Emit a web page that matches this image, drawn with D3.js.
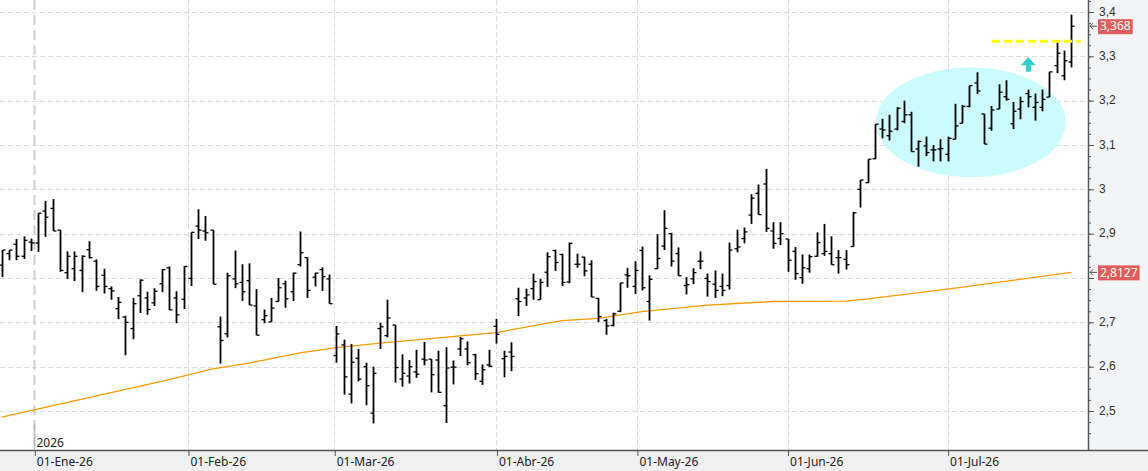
<!DOCTYPE html>
<html>
<head>
<meta charset="utf-8">
<script src="https://cdn.jsdelivr.net/npm/d3@7"></script>
<style>
  html, body { margin: 0; padding: 0; background: #fff; }
  svg { display: block; font-family: "Noto Sans", "Open Sans", sans-serif; }
</style>
</head>
<body>
<svg id="chart" width="1148" height="471"></svg>
<script>
// OHLC per session (last days of Dec-25 up to late Jul-26)
const aOpen = [
  2.829, 2.855, 2.876, 2.849, 2.881, 2.879, 2.951, 2.957, 2.908, 2.812,
  2.821, 2.817, 2.864, 2.838, 2.806, 2.776, 2.731, 2.712, 2.686, 2.760,
  2.755, 2.744, 2.787, 2.823, 2.755, 2.752, 2.799, 2.917, 2.906, 2.908,
  2.690, 2.674, 2.798, 2.790, 2.794, 2.737, 2.706, 2.701, 2.747, 2.787,
  2.769, 2.830, 2.846, 2.802, 2.819, 2.798, 2.625, 2.649, 2.538, 2.619,
  2.600, 2.495, 2.686, 2.670, 2.694, 2.572, 2.579, 2.588, 2.617, 2.617,
  2.615, 2.512, 2.599, 2.640, 2.640, 2.627, 2.567, 2.604, 2.691, 2.618,
  2.633, 2.753, 2.755, 2.776, 2.751, 2.813, 2.862, 2.853, 2.791, 2.831,
  2.847, 2.831, 2.754, 2.704, 2.693, 2.725, 2.807, 2.781, 2.862, 2.747,
  2.821, 2.872, 2.900, 2.855, 2.783, 2.798, 2.838, 2.799, 2.786, 2.781,
  2.783, 2.866, 2.889, 2.942, 2.991, 3.012, 2.906, 2.889, 2.888, 2.860,
  2.801, 2.821, 2.849, 2.855, 2.855, 2.846, 2.842, 2.871, 3.000, 3.015,
  3.069, 3.136, 3.121, 3.136, 3.153, 3.168, 3.091, 3.098, 3.089, 3.091,
  3.079, 3.113, 3.149, 3.187, 3.240, 3.170, 3.138, 3.181, 3.209, 3.148,
  3.181, 3.216, 3.185, 3.185, 3.208, 3.279, 3.256, 3.287
];
const aHigh = [
  2.863, 2.863, 2.888, 2.894, 2.889, 2.946, 2.974, 2.978, 2.908, 2.860,
  2.860, 2.851, 2.883, 2.842, 2.821, 2.781, 2.757, 2.715, 2.755, 2.797,
  2.769, 2.777, 2.820, 2.826, 2.770, 2.827, 2.903, 2.955, 2.940, 2.908,
  2.713, 2.812, 2.862, 2.831, 2.833, 2.775, 2.729, 2.755, 2.800, 2.794,
  2.812, 2.905, 2.846, 2.812, 2.824, 2.808, 2.692, 2.661, 2.651, 2.640,
  2.609, 2.600, 2.699, 2.751, 2.694, 2.628, 2.615, 2.638, 2.656, 2.617,
  2.636, 2.644, 2.614, 2.667, 2.657, 2.629, 2.605, 2.638, 2.708, 2.636,
  2.655, 2.778, 2.776, 2.810, 2.798, 2.858, 2.864, 2.855, 2.880, 2.855,
  2.848, 2.840, 2.755, 2.708, 2.722, 2.789, 2.823, 2.838, 2.871, 2.806,
  2.899, 2.953, 2.902, 2.869, 2.802, 2.822, 2.860, 2.810, 2.817, 2.810,
  2.880, 2.909, 2.914, 2.989, 3.011, 3.046, 2.926, 2.926, 2.888, 2.870,
  2.853, 2.853, 2.903, 2.922, 2.894, 2.863, 2.863, 2.949, 3.021, 3.068,
  3.147, 3.159, 3.168, 3.185, 3.200, 3.175, 3.110, 3.119, 3.100, 3.113,
  3.119, 3.193, 3.190, 3.234, 3.264, 3.170, 3.188, 3.237, 3.246, 3.197,
  3.209, 3.225, 3.216, 3.225, 3.265, 3.331, 3.313, 3.394
];
const aLow = [
  2.802, 2.840, 2.840, 2.843, 2.861, 2.859, 2.893, 2.906, 2.814, 2.798,
  2.793, 2.768, 2.844, 2.771, 2.765, 2.751, 2.707, 2.626, 2.662, 2.721,
  2.717, 2.737, 2.768, 2.728, 2.698, 2.730, 2.782, 2.888, 2.884, 2.786,
  2.607, 2.666, 2.777, 2.748, 2.739, 2.671, 2.698, 2.701, 2.747, 2.733,
  2.748, 2.826, 2.755, 2.781, 2.771, 2.742, 2.609, 2.537, 2.517, 2.567,
  2.513, 2.472, 2.640, 2.666, 2.564, 2.555, 2.562, 2.575, 2.603, 2.542,
  2.541, 2.473, 2.560, 2.624, 2.603, 2.570, 2.559, 2.599, 2.652, 2.576,
  2.590, 2.714, 2.737, 2.751, 2.751, 2.780, 2.816, 2.782, 2.788, 2.823,
  2.804, 2.757, 2.700, 2.672, 2.691, 2.723, 2.778, 2.764, 2.772, 2.704,
  2.821, 2.863, 2.826, 2.805, 2.763, 2.786, 2.820, 2.758, 2.755, 2.759,
  2.774, 2.858, 2.878, 2.922, 2.943, 2.904, 2.866, 2.874, 2.814, 2.796,
  2.787, 2.812, 2.848, 2.850, 2.830, 2.810, 2.819, 2.871, 2.959, 3.014,
  3.068, 3.115, 3.110, 3.133, 3.149, 3.085, 3.051, 3.075, 3.063, 3.063,
  3.063, 3.113, 3.149, 3.185, 3.215, 3.102, 3.132, 3.181, 3.200, 3.136,
  3.158, 3.185, 3.155, 3.176, 3.208, 3.262, 3.246, 3.275
];
const aClose = [
  2.863, 2.863, 2.849, 2.885, 2.879, 2.946, 2.937, 2.906, 2.817, 2.849,
  2.849, 2.849, 2.846, 2.781, 2.781, 2.771, 2.745, 2.700, 2.742, 2.795,
  2.729, 2.770, 2.819, 2.728, 2.717, 2.826, 2.903, 2.908, 2.902, 2.786,
  2.659, 2.805, 2.787, 2.769, 2.739, 2.671, 2.715, 2.732, 2.778, 2.753,
  2.811, 2.857, 2.772, 2.811, 2.803, 2.742, 2.674, 2.577, 2.610, 2.572,
  2.557, 2.585, 2.690, 2.710, 2.598, 2.585, 2.600, 2.583, 2.615, 2.582,
  2.542, 2.597, 2.599, 2.663, 2.609, 2.584, 2.593, 2.601, 2.673, 2.623,
  2.623, 2.747, 2.762, 2.792, 2.790, 2.848, 2.835, 2.790, 2.878, 2.831,
  2.816, 2.757, 2.713, 2.692, 2.719, 2.789, 2.805, 2.817, 2.778, 2.797,
  2.844, 2.912, 2.838, 2.805, 2.785, 2.812, 2.838, 2.792, 2.772, 2.772,
  2.863, 2.870, 2.904, 2.980, 2.943, 2.912, 2.878, 2.900, 2.840, 2.810,
  2.823, 2.848, 2.880, 2.860, 2.830, 2.846, 2.830, 2.947, 3.021, 3.068,
  3.147, 3.134, 3.131, 3.183, 3.168, 3.085, 3.108, 3.083, 3.089, 3.092,
  3.115, 3.143, 3.187, 3.234, 3.222, 3.102, 3.179, 3.219, 3.203, 3.176,
  3.198, 3.209, 3.196, 3.203, 3.265, 3.307, 3.290, 3.368
];

// Long moving average, sampled at session indexes where it was read
const aMaIndex = [0, 23, 29, 34, 41, 46, 52, 60, 68, 77, 82, 88, 97, 106, 116, 119, 130, 147];
const aMaValue = [2.486, 2.571, 2.595, 2.608, 2.631, 2.643, 2.653, 2.665, 2.677, 2.704,
  2.709, 2.724, 2.739, 2.747, 2.748, 2.753, 2.775, 2.8127];

// Month boundaries (session index, fractional when the 1st is not a session)
const aMonthPos = [4.48, 25.6, 45.7, 68, 87.3, 108, 130];
const aMonthLabels = ['01-Ene-26', '01-Feb-26', '01-Mar-26', '01-Abr-26', '01-May-26', '01-Jun-26', '01-Jul-26'];
const sYearLabel = '2026';

const aYTicks = [2.5, 2.6, 2.7, 2.8, 2.9, 3.0, 3.1, 3.2, 3.3, 3.4];

// Drawn annotations, in data units
const aZone = [133.2, 3.151, 13.06, 0.124]; // centre index, centre value, radius idx, radius value
const aLevel = [136.1, 148.3, 3.334];       // from idx, to idx, price
const aArrow = [141.1, 3.298, 3.265];       // idx, tip, base
const aPriceTags = [
  { fValue: 3.368, sText: '3,368' },
  { fValue: 2.8127, sText: '2,8127' }
];

const iWidth = 1148;
const iHeight = 471;
const iPlotRight = 1088;
const iPlotBottom = 450;

const oSvg = d3.select('#chart');
const fmtComma = v => String(+v.toFixed(4)).replace('.', ',');

const oScaleX = d3.scaleLinear().domain([0, 147]).range([1.7, 1071.3]);
const oScaleY = d3.scaleLinear().domain([2.5, 3.4]).range([411, 12]);

// Panels
oSvg.append('rect').attr('x', 0).attr('y', 0).attr('width', iWidth).attr('height', iHeight).attr('fill', '#fff');
oSvg.append('rect').attr('x', iPlotRight).attr('y', 0).attr('width', iWidth - iPlotRight).attr('height', iPlotBottom).attr('fill', '#f3f4f6');
oSvg.append('rect').attr('x', 0).attr('y', iPlotBottom).attr('width', iWidth).attr('height', iHeight - iPlotBottom).attr('fill', '#f0f0f0');

oSvg.append('defs').append('clipPath').attr('id', 'plot-clip')
  .append('rect').attr('x', 0).attr('y', 0).attr('width', iPlotRight).attr('height', iPlotBottom);

// Grid
const oGridG = oSvg.append('g').attr('class', 'grid-g');
oGridG.selectAll('line.h').data(aYTicks).enter().append('line')
  .attr('x1', 0).attr('x2', iPlotRight)
  .attr('y1', d => Math.round(oScaleY(d)) + 0.5).attr('y2', d => Math.round(oScaleY(d)) + 0.5)
  .attr('stroke', '#dcdcdc').attr('stroke-dasharray', '5,3');
oGridG.selectAll('line.v').data(aMonthPos).enter().append('line')
  .attr('x1', d => Math.round(oScaleX(d)) + 0.5).attr('x2', d => Math.round(oScaleX(d)) + 0.5)
  .attr('y1', 0).attr('y2', iPlotBottom)
  .attr('stroke', (d, i) => i === 0 ? '#cfcfcf' : '#dcdcdc')
  .attr('stroke-width', (d, i) => i === 0 ? 2 : 1)
  .attr('stroke-dasharray', (d, i) => i === 0 ? '10,5' : '5,3');

const oPlotG = oSvg.append('g').attr('clip-path', 'url(#plot-clip)');

// Highlight zone behind the bars
oPlotG.append('ellipse')
  .attr('cx', oScaleX(aZone[0])).attr('cy', oScaleY(aZone[1]))
  .attr('rx', oScaleX(aZone[0] + aZone[2]) - oScaleX(aZone[0]))
  .attr('ry', oScaleY(aZone[1] - aZone[3]) - oScaleY(aZone[1]))
  .attr('fill', '#ccfbfd');

// Moving average
oPlotG.append('path')
  .datum(aMaIndex.map((d, i) => [d, aMaValue[i]]))
  .attr('d', d3.line().x(d => oScaleX(d[0])).y(d => oScaleY(d[1])))
  .attr('fill', 'none').attr('stroke', '#ff9900').attr('stroke-width', 1.3);

// OHLC bars
const oBarsG = oPlotG.append('g').attr('class', 'bars-g').attr('stroke', '#000');
aOpen.forEach((fOpen, i) => {
  const x = Math.round(oScaleX(i)) + 0.5;
  oBarsG.append('line').attr('x1', x).attr('x2', x)
    .attr('y1', oScaleY(aHigh[i])).attr('y2', oScaleY(aLow[i])).attr('stroke-width', 1.8);
  oBarsG.append('line').attr('x1', x - 3).attr('x2', x)
    .attr('y1', oScaleY(fOpen)).attr('y2', oScaleY(fOpen)).attr('stroke-width', 1.3);
  oBarsG.append('line').attr('x1', x).attr('x2', x + 3)
    .attr('y1', oScaleY(aClose[i])).attr('y2', oScaleY(aClose[i])).attr('stroke-width', 1.3);
});

// Breakout level and arrow
oPlotG.append('line')
  .attr('x1', oScaleX(aLevel[0])).attr('x2', oScaleX(aLevel[1]))
  .attr('y1', oScaleY(aLevel[2])).attr('y2', oScaleY(aLevel[2]))
  .attr('stroke', '#ffff00').attr('stroke-width', 3).attr('stroke-dasharray', '8,4');

const xa = oScaleX(aArrow[0]);
const yTip = oScaleY(aArrow[1]);
const yBase = oScaleY(aArrow[2]);
const yNeck = yTip + (yBase - yTip) * 0.55;
oPlotG.append('path')
  .attr('d', `M${xa},${yTip} L${xa + 7.5},${yNeck} L${xa + 2.5},${yNeck} L${xa + 2.5},${yBase} L${xa - 2.5},${yBase} L${xa - 2.5},${yNeck} L${xa - 7.5},${yNeck} Z`)
  .attr('fill', '#33cccc');

// Right price axis; labels hidden under a price tag are left out, as in the original
const aTagY = aPriceTags.map(o => oScaleY(o.fValue));
const aShownTicks = aYTicks.filter(v => aTagY.every(y => Math.abs(oScaleY(v) - y) > 10));
const oAxisYG = oSvg.append('g').attr('transform', `translate(${iPlotRight},0)`);
oAxisYG.call(d3.axisRight(oScaleY).tickValues(d3.range(2.45, 3.43, 0.025)).tickSize(3).tickFormat(''))
  .call(g => g.select('.domain').remove());
oAxisYG.append('g').call(d3.axisRight(oScaleY).tickValues(aYTicks).tickSize(6).tickFormat(''))
  .call(g => g.select('.domain').remove());
oAxisYG.selectAll('line').attr('stroke', '#555');
oAxisYG.selectAll('text.lbl').data(aShownTicks).enter().append('text')
  .attr('class', 'lbl')
  .attr('x', 11).attr('y', d => oScaleY(d)).attr('dy', '0.3em')
  .attr('fill', '#333').attr('font-size', 12)
  .text(fmtComma);
oSvg.append('line').attr('x1', iPlotRight + 0.5).attr('x2', iPlotRight + 0.5).attr('y1', 0).attr('y2', iPlotBottom)
  .attr('stroke', '#555').attr('stroke-width', 1.5);

// Price tags
aPriceTags.forEach(oTag => {
  const y = oScaleY(oTag.fValue);
  const oTagG = oSvg.append('g');
  const oText = oTagG.append('text').attr('x', 1100).attr('y', y).attr('dy', '0.35em')
    .attr('fill', '#fff').attr('font-size', 12).text(oTag.sText);
  const iTextW = oText.node().getComputedTextLength();
  oTagG.insert('rect', 'text').attr('x', 1098).attr('y', y - 7).attr('width', iTextW + 4).attr('height', 15).attr('fill', '#e35b5b');
  oTagG.append('path').attr('d', `M${iPlotRight + 9},${y} H${iPlotRight + 2} M${iPlotRight + 5},${y - 3} L${iPlotRight + 2},${y} L${iPlotRight + 5},${y + 3}`)
    .attr('fill', 'none').attr('stroke', '#555').attr('stroke-width', 1);
});

// Bottom date axis
oSvg.append('line').attr('x1', 0).attr('x2', iWidth).attr('y1', iPlotBottom + 0.5).attr('y2', iPlotBottom + 0.5)
  .attr('stroke', '#555').attr('stroke-width', 1.5);
const oAxisXG = oSvg.append('g').attr('transform', `translate(0,${iPlotBottom})`);
oAxisXG.call(d3.axisBottom(oScaleX).tickValues(aMonthPos).tickSize(6).tickFormat((d, i) => aMonthLabels[i]))
  .call(g => g.select('.domain').remove());
oAxisXG.selectAll('.tick line').attr('stroke', '#555').attr('transform', 'translate(0.5,0)');
oAxisXG.selectAll('.tick text').attr('text-anchor', 'start').attr('x', 2).attr('y', 6).attr('dy', '0.85em')
  .attr('fill', '#222').attr('font-size', 12).attr('font-family', '"Noto Sans", sans-serif');

// Year marker
const xYear = Math.round(oScaleX(aMonthPos[0])) + 0.5;
oSvg.append('line').attr('x1', xYear).attr('x2', xYear).attr('y1', 424).attr('y2', iPlotBottom)
  .attr('stroke', '#bbb').attr('stroke-width', 1.5);
oSvg.append('text').attr('x', xYear + 2).attr('y', 447).attr('fill', '#222').attr('font-size', 12).text(sYearLabel);
</script>
</body>
</html>
